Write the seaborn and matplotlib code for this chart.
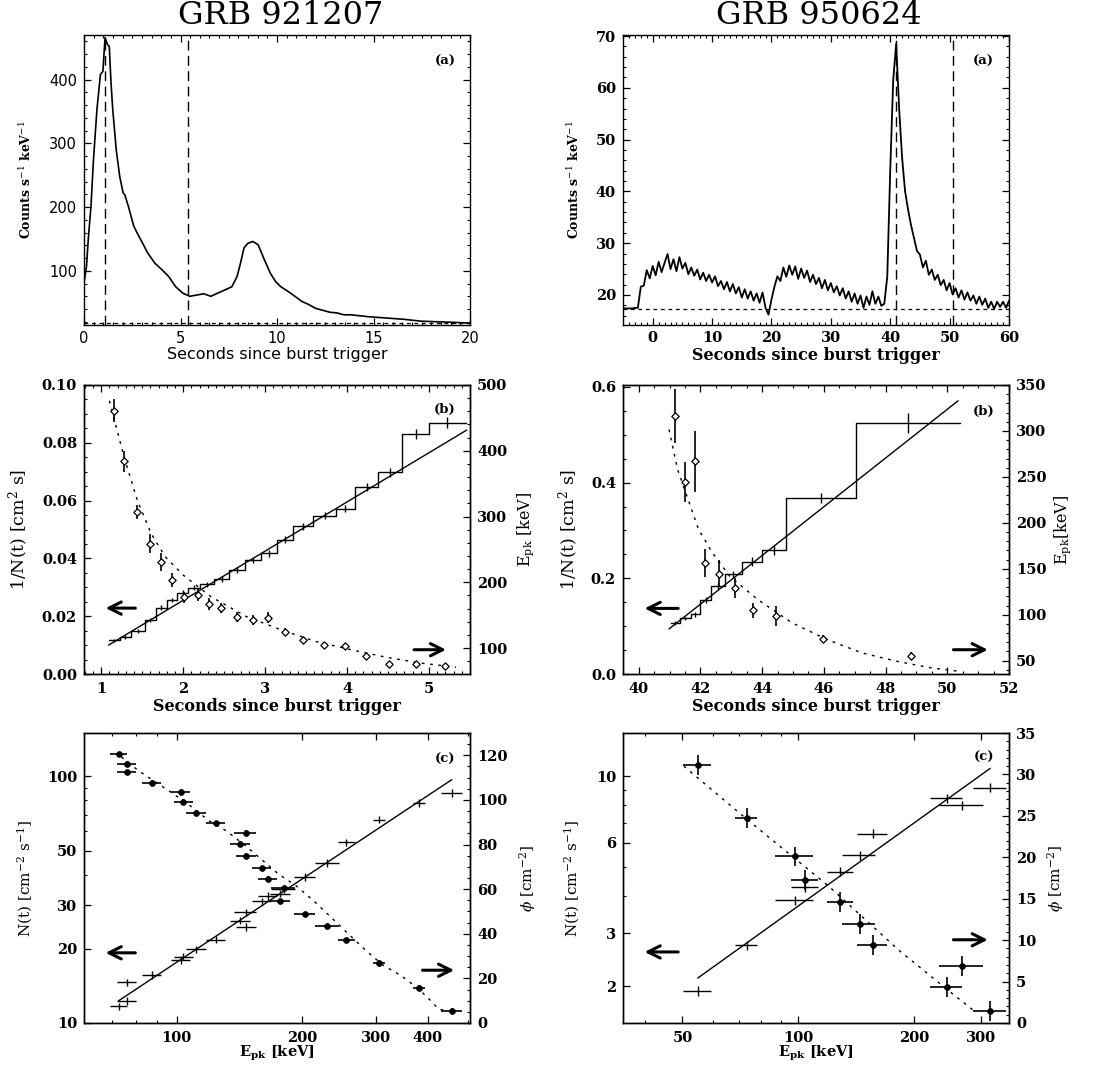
import numpy as np
import matplotlib
matplotlib.use("Agg")
import matplotlib.pyplot as plt
import seaborn as sns
from matplotlib.ticker import MultipleLocator, LogLocator, NullFormatter

# ---------------- data ----------------
# (a) light curves
t_921207 = [0.00, 0.13, 0.22, 0.36, 0.49, 0.67, 0.85, 0.98, 1.09, 1.22, 1.31, 1.40, 1.49, 1.67,
            1.85, 2.03, 2.12, 2.30, 2.58, 2.76, 2.94, 3.30, 3.67, 4.03, 4.39, 4.75, 5.12, 5.48,
            5.84, 6.21, 6.57, 6.93, 7.30, 7.66, 7.93, 8.11, 8.29, 8.48, 8.75, 9.02, 9.20, 9.38,
            9.66, 9.93, 10.20, 10.56, 10.93, 11.29, 11.65, 12.01, 12.38, 12.74, 13.10, 13.47,
            13.83, 14.74, 15.64, 16.55, 17.46, 18.37, 19.27, 20.00]
rate_921207 = [81, 107, 149, 201, 274, 353, 408, 413, 466, 455, 452, 395, 353, 290,
               248, 222, 219, 201, 170, 159, 149, 128, 112, 102, 91, 75, 65, 60,
               62, 64, 60, 65, 70, 75, 91, 112, 136, 143, 146, 141, 128, 115,
               96, 83, 75, 68, 60, 52, 47, 41, 38, 35, 34, 31,
               31, 28, 26, 24, 21, 20, 19, 18]
t_950624 = np.arange(-5.0, 60.01, 0.5)
rate_950624 = [17.4, 17.4, 17.4, 17.4, 17.5, 17.5, 21.6, 21.8, 24.8, 23.2,
               25.6, 23.8, 26.4, 24.4, 26.2, 27.9, 25.0, 26.9, 24.6, 27.3,
               25.1, 26.2, 24.0, 25.3, 23.7, 24.9, 23.0, 24.3, 22.7, 23.9,
               22.4, 23.6, 21.7, 22.7, 21.1, 22.5, 20.7, 22.1, 20.3, 21.5,
               19.5, 21.1, 19.3, 20.7, 18.9, 20.3, 18.5, 20.5, 17.5, 16.2,
               19.1, 21.6, 23.6, 22.7, 25.3, 23.5, 25.7, 23.9, 25.5, 23.1,
               25.1, 23.3, 24.7, 22.5, 23.9, 22.1, 23.3, 21.3, 22.9, 20.9,
               22.3, 20.5, 21.7, 19.9, 21.3, 19.3, 20.7, 18.7, 20.3, 18.3,
               19.9, 17.5, 19.7, 18.1, 20.7, 18.3, 19.7, 17.9, 18.3, 23.5,
               44.0, 61.5, 68.5, 56.0, 46.5, 40.0, 36.5, 33.5, 31.0, 28.5,
               27.8, 25.3, 26.6, 23.9, 24.9, 22.9, 23.9, 21.9, 22.9, 20.9,
               22.3, 20.1, 21.3, 19.5, 20.9, 19.1, 20.5, 18.9, 19.9, 18.3,
               19.7, 18.1, 19.3, 17.5, 18.7, 17.3, 18.7, 17.7, 18.7, 17.5,
               18.9]
bkg_921207 = 18.0
bkg_950624 = 17.2
marks_921207 = [1.1, 5.4]
marks_950624 = [41.0, 50.5]

# (b) GRB 921207
edges_b1 = [1.09, 1.23, 1.36, 1.53, 1.67, 1.80, 1.93, 2.06, 2.20, 2.38, 2.56, 2.75, 2.95,
            3.15, 3.34, 3.59, 3.86, 4.10, 4.38, 4.67, 5.00, 5.45]
invN_b1 = [0.0116, 0.0128, 0.0148, 0.0186, 0.0230, 0.0256, 0.0282, 0.0299, 0.0311, 0.0328,
           0.0360, 0.0394, 0.0417, 0.0465, 0.0511, 0.0548, 0.0572, 0.0647, 0.0698, 0.0831, 0.0870]
invN_err_b1 = [0.0006, 0.0006, 0.0007, 0.0007, 0.0008, 0.0008, 0.0008, 0.0009, 0.0009, 0.0010,
               0.0010, 0.0011, 0.0011, 0.0012, 0.0012, 0.0013, 0.0013, 0.0014, 0.0015, 0.0017, 0.0020]
t_epk_b1 = [1.15, 1.28, 1.44, 1.60, 1.73, 1.86, 2.01, 2.18, 2.32, 2.46, 2.66, 2.85, 3.04,
            3.24, 3.46, 3.72, 3.98, 4.23, 4.51, 4.84, 5.20]
epk_b1 = [461, 384, 307, 259, 231, 203.5, 177, 181, 167, 160.6, 147, 143, 146.5,
          125, 112.6, 104, 103.5, 88.4, 76.3, 76.3, 73.2]
epk_err_b1 = [18, 16, 10, 14, 14, 11, 8, 10, 9, 8, 8, 8, 8, 6, 5, 4, 4, 3, 3, 2, 2]
fit_invN_t_b1 = [1.09, 5.46]
fit_invN_b1 = [0.0100, 0.0844]
fit_epk_t_b1 = [1.10, 1.28, 1.44, 1.61, 1.78, 2.00, 2.34, 2.77, 3.19, 3.62, 4.05, 4.48, 4.91, 5.33]
fit_epk_b1 = [476, 390, 325, 274, 239, 211, 178, 148, 128, 110, 97.5, 86, 77, 71]

# (b) GRB 950624
edges_b2 = [41.03, 41.35, 41.68, 41.98, 42.35, 42.78, 43.35, 44.01, 44.76, 47.04, 50.42]
invN_b2 = [0.107, 0.116, 0.125, 0.154, 0.183, 0.208, 0.235, 0.259, 0.368, 0.524]
invN_err_b2 = [0.004, 0.004, 0.005, 0.006, 0.007, 0.008, 0.009, 0.010, 0.011, 0.021]
t_epk_b2 = [41.18, 41.50, 41.82, 42.16, 42.59, 43.11, 43.71, 44.44, 45.97, 48.83]
epk_b2 = [316.2, 244.3, 266.8, 156.4, 144.8, 128.8, 104.9, 99.0, 73.6, 55.4]
epk_err_b2 = [29, 22, 33, 15, 15, 11, 8, 11, 4.5, 4.5]
fit_invN_t_b2 = [40.98, 50.35]
fit_invN_b2 = [0.094, 0.571]
fit_epk_t_b2 = [40.98, 41.26, 41.60, 41.94, 42.39, 42.95, 43.86, 44.98, 46.11, 47.24, 48.37, 49.50, 50.40]
fit_epk_b2 = [301.6, 258, 225.4, 192.7, 167.3, 141.9, 116.4, 91.0, 72.9, 58.4, 49.3, 42.0, 38.4]

# (c) GRB 921207
epk_c1 = [72.6, 76.1, 76.0, 87.2, 102.3, 103.9, 111.6, 124.1, 146.3, 142.0, 146.9, 159.9, 165.6,
          180.6, 177.1, 202.7, 229.8, 255.4, 305.3, 381.2, 456.7]
epk_xerr_c1 = [3.5, 4.0, 4.0, 4.6, 5.2, 5.5, 6.0, 6.5, 9.0, 8.0, 8.0, 8.5, 8.5,
               12.0, 10.0, 12.0, 15.0, 12.0, 10.0, 13.0, 27.0]
flux_c1 = [11.7, 14.6, 12.3, 15.7, 18.0, 18.6, 19.9, 21.8, 28.1, 26.0, 24.5, 31.1, 32.8,
           35.0, 33.5, 39.2, 44.5, 54.1, 66.8, 78.0, 85.8]
phi_c1 = [120.4, 116.3, 112.3, 107.8, 103.6, 99.2, 94.2, 89.5, 85.2, 80.2, 75.0, 69.4, 64.6,
          60.4, 54.5, 48.7, 43.3, 37.1, 27.1, 15.8, 5.4]
fit_flux_e_c1 = [72.6, 456.7]
fit_flux_c1 = [12.3, 97.0]
fit_phi_e_c1 = [73.8, 81.2, 89.4, 98.5, 110.5, 119.4, 131.4, 144.7, 159.4, 175.4, 193.2, 212.7,
                234.2, 257.9, 283.9, 312.6, 344.3, 379.0, 401.6, 425.5, 450.6]
fit_phi_c1 = [119.2, 113.0, 107.8, 102.6, 95.9, 90.7, 86.2, 80.2, 73.5, 66.8, 61.6, 54.9,
              47.5, 40.0, 32.6, 25.9, 21.4, 15.5, 11.0, 6.1, 5.5]

# (c) GRB 950624
epk_c2 = [54.8, 73.5, 98.1, 104.3, 128.8, 144.5, 156.2, 244.0, 267.4, 316.2]
epk_xerr_c2 = [4.5, 4.8, 11.0, 8.3, 10.0, 14.5, 14.0, 23.0, 35.0, 31.0]
flux_c2 = [1.93, 2.74, 3.86, 4.27, 4.81, 5.46, 6.43, 8.43, 7.99, 9.15]
phi_c2 = [31.1, 24.7, 20.1, 17.3, 14.6, 11.9, 9.4, 4.3, 6.9, 1.5]
fit_flux_e_c2 = [54.8, 316.2]
fit_flux_c2 = [2.13, 10.6]
fit_phi_e_c2 = [50.4, 73.5, 120.2, 182.7, 244.9, 286.5]
fit_phi_c2 = [31.0, 24.6, 16.5, 8.8, 4.0, 1.5]

# ---------------- style ----------------
sns.set_theme(style="ticks")
plt.rcParams["font.family"] = ["DejaVu Serif", "DejaVu Sans"]
plt.rcParams["mathtext.fontset"] = "dejavuserif"
for k in ["axes.edgecolor", "xtick.color", "ytick.color", "text.color", "axes.labelcolor"]:
    plt.rcParams[k] = "black"
plt.rcParams["axes.linewidth"] = 1.0

K = "black"
TFS = 10.5
XLFS = 11.5
LW = 1.0
DOT = (0, (2.0, 4.0))

W, H = 1096, 1067
fig = plt.figure(figsize=(W / 100, H / 100), dpi=100)
fig.patch.set_facecolor("white")
colL = (84 / W, 386 / W)
colR = (623 / W, 386 / W)
rows = {"a": (1 - 325 / H, 290 / H), "b": (1 - 674 / H, 289 / H), "c": (1 - 1023 / H, 290 / H)}


def add(col, row):
    return fig.add_axes([col[0], rows[row][0], col[1], rows[row][1]])


def style(ax, left=True, right=True, top=True, bottom=True, xpad=6):
    ax.tick_params(which="both", direction="in", left=left, right=right, top=top, bottom=bottom)
    ax.tick_params(which="major", length=5, width=0.9)
    ax.tick_params(which="minor", length=2.5, width=0.8)
    ax.tick_params(axis="x", which="major", pad=xpad)
    ax.tick_params(axis="y", which="major", pad=5)
    for s in ax.spines.values():
        s.set_linewidth(1.0)
        s.set_color(K)


def xt(ax, vals, fmt, bold=True, family=None, fs=TFS):
    ax.set_xticks(vals)
    kw = dict(fontsize=fs, fontweight="bold" if bold else "normal")
    if family:
        kw["fontfamily"] = family
    ax.set_xticklabels([fmt.format(v) for v in vals], **kw)


def yt(ax, vals, fmt, bold=True, family=None, fs=TFS):
    ax.set_yticks(vals)
    kw = dict(fontsize=fs, fontweight="bold" if bold else "normal")
    if family:
        kw["fontfamily"] = family
    ax.set_yticklabels([fmt.format(v) for v in vals], **kw)


def arrow(ax, tail, tip, y):
    ax.annotate("", xy=(tip, y), xytext=(tail, y), xycoords="axes fraction",
                textcoords="axes fraction",
                arrowprops=dict(arrowstyle="->", lw=2.2, color=K, mutation_scale=22,
                                shrinkA=0, shrinkB=0))


def plabel(ax, s, x, y):
    ax.text(x, y, s, transform=ax.transAxes, ha="center", va="center",
            fontsize=9.5, fontweight="bold")


# titles
fig.text(281 / W, 1 - 16 / H, "GRB 921207", ha="center", va="center", fontsize=23)
fig.text(819 / W, 1 - 16 / H, "GRB 950624", ha="center", va="center", fontsize=23)

# ---------------- (a) left ----------------
ax = add(colL, "a")
style(ax, xpad=4)
sns.lineplot(x=t_921207, y=rate_921207, ax=ax, color=K, lw=1.2, estimator=None, sort=False)
for m in marks_921207:
    ax.axvline(m, color=K, lw=1.0, dashes=(7, 4))
ax.axhline(bkg_921207, color=K, lw=0.9, dashes=(3, 3))
ax.set_xlim(0, 20)
ax.set_ylim(15, 470)
xt(ax, [0, 5, 10, 15, 20], "{}", bold=False, family="DejaVu Sans", fs=10.5)
yt(ax, [100, 200, 300, 400], "{}", bold=False, family="DejaVu Sans", fs=10.5)
ax.xaxis.set_minor_locator(MultipleLocator(0.5))
ax.yaxis.set_minor_locator(MultipleLocator(20))
ax.set_xlabel("Seconds since burst trigger", fontsize=11.5, fontfamily="DejaVu Sans")
ax.set_ylabel("Counts s$^{-1}$ keV$^{-1}$", fontsize=9, fontweight="bold")
ax.yaxis.set_label_coords(-0.130, 0.5)
ax.xaxis.set_label_coords(0.5, -0.076)
plabel(ax, "(a)", 0.935, 0.908)

# ---------------- (a) right ----------------
ax = add(colR, "a")
style(ax, xpad=4)
sns.lineplot(x=t_950624, y=rate_950624, ax=ax, color=K, lw=1.3, estimator=None, sort=False)
for m in marks_950624:
    ax.axvline(m, color=K, lw=1.0, dashes=(7, 4))
ax.axhline(bkg_950624, color=K, lw=0.9, dashes=(3, 3))
ax.set_xlim(-5, 60)
ax.set_ylim(14.2, 70.2)
xt(ax, [0, 10, 20, 30, 40, 50, 60], "{}")
yt(ax, [20, 30, 40, 50, 60, 70], "{}")
ax.xaxis.set_minor_locator(MultipleLocator(1))
ax.yaxis.set_minor_locator(MultipleLocator(2))
ax.set_xlabel("Seconds since burst trigger", fontsize=XLFS, fontweight="bold")
ax.set_ylabel("Counts s$^{-1}$ keV$^{-1}$", fontsize=9, fontweight="bold")
ax.yaxis.set_label_coords(-0.106, 0.5)
ax.xaxis.set_label_coords(0.5, -0.076)
plabel(ax, "(a)", 0.934, 0.908)


def panel_b(col, edges, inv, inv_err, te, ep, ep_err, ft1, fv1, ft2, fv2):
    ax = add(col, "b")
    style(ax, right=False)
    ax2 = ax.twinx()
    style(ax2, left=False, right=True, top=False, bottom=False)
    sns.lineplot(x=edges, y=list(inv) + [inv[-1]], ax=ax, color=K, lw=LW,
                 drawstyle="steps-post", estimator=None, sort=False)
    centers = [(a + b) / 2 for a, b in zip(edges[:-1], edges[1:])]
    ax.errorbar(centers, inv, yerr=inv_err, fmt="none", ecolor=K, elinewidth=1.0)
    sns.lineplot(x=ft1, y=fv1, ax=ax, color=K, lw=LW, estimator=None, sort=False)
    ax2.errorbar(te, ep, yerr=ep_err, fmt="none", ecolor=K, elinewidth=1.2)
    sns.lineplot(x=ft2, y=fv2, ax=ax2, color=K, lw=1.0, linestyle=DOT,
                 estimator=None, sort=False)
    sns.scatterplot(x=te, y=ep, ax=ax2, marker="D", s=14, color="white",
                    edgecolor=K, linewidth=0.9, zorder=4)
    return ax, ax2


# ---------------- (b) left ----------------
ax, ax2 = panel_b(colL, edges_b1, invN_b1, invN_err_b1, t_epk_b1, epk_b1, epk_err_b1,
                  fit_invN_t_b1, fit_invN_b1, fit_epk_t_b1, fit_epk_b1)
ax.set_xlim(0.79, 5.5)
ax.set_ylim(0, 0.1)
ax2.set_ylim(60.6, 499)
xt(ax, [1, 2, 3, 4, 5], "{}")
yt(ax, [0.0, 0.02, 0.04, 0.06, 0.08, 0.10], "{:.2f}")
yt(ax2, [100, 200, 300, 400, 500], "{}")
ax.xaxis.set_minor_locator(MultipleLocator(0.1))
ax.yaxis.set_minor_locator(MultipleLocator(0.005))
ax2.yaxis.set_minor_locator(MultipleLocator(20))
ax.set_xlabel("Seconds since burst trigger", fontsize=XLFS, fontweight="bold")
ax.set_ylabel("1/N(t) [cm$^2$ s]", fontsize=12.5)
ax2.set_ylabel("E$_{\\rm pk}$ [keV]", fontsize=11.5)
ax.yaxis.set_label_coords(-0.137, 0.5)
ax2.yaxis.set_label_coords(1.117, 0.5)
ax.xaxis.set_label_coords(0.5, -0.083)
arrow(ax, 0.133, 0.056, 0.228)
arrow(ax, 0.855, 0.938, 0.084)
plabel(ax, "(b)", 0.935, 0.914)

# ---------------- (b) right ----------------
ax, ax2 = panel_b(colR, edges_b2, invN_b2, invN_err_b2, t_epk_b2, epk_b2, epk_err_b2,
                  fit_invN_t_b2, fit_invN_b2, fit_epk_t_b2, fit_epk_b2)
ax.set_xlim(39.49, 52)
ax.set_ylim(0, 0.604)
ax2.set_ylim(35.5, 350)
xt(ax, [40, 42, 44, 46, 48, 50, 52], "{}")
yt(ax, [0.0, 0.2, 0.4, 0.6], "{:.1f}")
yt(ax2, [50, 100, 150, 200, 250, 300, 350], "{}")
ax.xaxis.set_minor_locator(MultipleLocator(0.5))
ax.yaxis.set_minor_locator(MultipleLocator(0.05))
ax2.yaxis.set_minor_locator(MultipleLocator(10))
ax.set_xlabel("Seconds since burst trigger", fontsize=XLFS, fontweight="bold")
ax.set_ylabel("1/N(t) [cm$^2$ s]", fontsize=12.5)
ax2.set_ylabel("E$_{\\rm pk}$[keV]", fontsize=11.5)
ax.yaxis.set_label_coords(-0.110, 0.5)
ax2.yaxis.set_label_coords(1.111, 0.5)
ax.xaxis.set_label_coords(0.5, -0.083)
arrow(ax, 0.143, 0.056, 0.227)
arrow(ax, 0.856, 0.945, 0.084)
plabel(ax, "(b)", 0.934, 0.910)


def panel_c(col, e, exerr, flux, phi, fe1, fv1, fe2, fv2):
    ax = add(col, "c")
    ax.set_xscale("log")
    ax.set_yscale("log")
    style(ax, right=False)
    ax2 = ax.twinx()
    style(ax2, left=False, right=True, top=False, bottom=False)
    ax.errorbar(e, flux, xerr=exerr, yerr=[0.035 * f for f in flux], fmt="none",
                ecolor=K, elinewidth=1.0)
    sns.lineplot(x=fe1, y=fv1, ax=ax, color=K, lw=LW, estimator=None, sort=False)
    ax2.errorbar(e, phi, xerr=exerr, yerr=[1.2] * len(phi), fmt="none",
                 ecolor=K, elinewidth=1.2)
    sns.lineplot(x=fe2, y=fv2, ax=ax2, color=K, lw=1.0, linestyle=DOT,
                 estimator=None, sort=False)
    sns.scatterplot(x=e, y=phi, ax=ax2, marker="o", s=18, color=K, edgecolor=K,
                    linewidth=0.5, zorder=4)
    ax.xaxis.set_minor_locator(LogLocator(base=10, subs=np.arange(2, 10)))
    ax.xaxis.set_minor_formatter(NullFormatter())
    ax.yaxis.set_minor_locator(LogLocator(base=10, subs=np.arange(2, 10)))
    ax.yaxis.set_minor_formatter(NullFormatter())
    ax.set_xlabel("E$_{\\mathbf{pk}}$ [keV]", fontsize=10.5, fontweight="bold")
    ax.set_ylabel("N(t) [cm$^{-2}$ s$^{-1}$]", fontsize=11)
    ax2.set_ylabel("$\\phi$ [cm$^{-2}$]", fontsize=11)
    ax.xaxis.set_label_coords(0.5, -0.072)
    return ax, ax2


# ---------------- (c) left ----------------
ax, ax2 = panel_c(colL, epk_c1, epk_xerr_c1, flux_c1, phi_c1,
                  fit_flux_e_c1, fit_flux_c1, fit_phi_e_c1, fit_phi_c1)
ax.set_xlim(60, 505)
ax.set_ylim(10, 150)
ax2.set_ylim(0, 130)
xt(ax, [100, 200, 300, 400], "{}")
yt(ax, [10, 20, 30, 50, 100], "{}")
yt(ax2, [0, 20, 40, 60, 80, 100, 120], "{}")
ax2.yaxis.set_minor_locator(MultipleLocator(5))
ax.yaxis.set_label_coords(-0.128, 0.5)
ax2.yaxis.set_label_coords(1.122, 0.5)
arrow(ax, 0.133, 0.056, 0.242)
arrow(ax, 0.877, 0.959, 0.182)
plabel(ax, "(c)", 0.935, 0.910)

# ---------------- (c) right ----------------
ax, ax2 = panel_c(colR, epk_c2, epk_xerr_c2, flux_c2, phi_c2,
                  fit_flux_e_c2, fit_flux_c2, fit_phi_e_c2, fit_phi_c2)
ax.set_xlim(35, 354)
ax.set_ylim(1.51, 13.9)
ax2.set_ylim(0, 35)
xt(ax, [50, 100, 200, 300], "{}")
yt(ax, [2, 3, 6, 10], "{}")
yt(ax2, [0, 5, 10, 15, 20, 25, 30, 35], "{}")
ax2.yaxis.set_minor_locator(MultipleLocator(1))
ax.yaxis.set_label_coords(-0.106, 0.5)
ax2.yaxis.set_label_coords(1.093, 0.5)
arrow(ax, 0.143, 0.056, 0.245)
arrow(ax, 0.856, 0.945, 0.287)
plabel(ax, "(c)", 0.934, 0.914)

fig.savefig("out.png", dpi=100, facecolor="white")
